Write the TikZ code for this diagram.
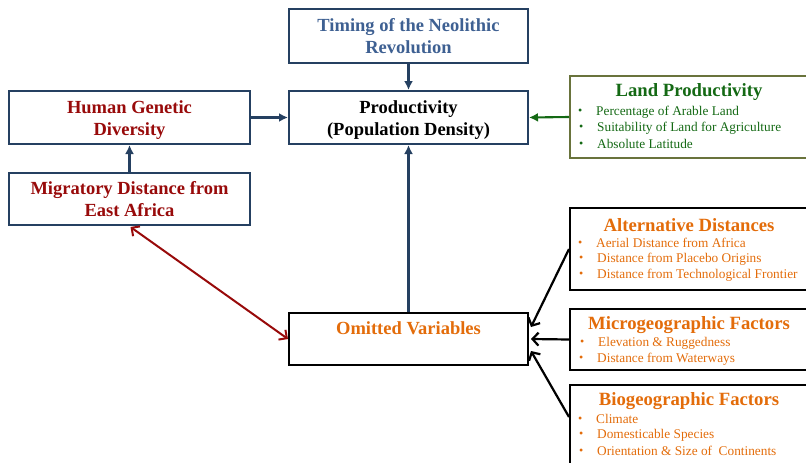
\documentclass[tikz,border=0pt]{standalone}
\usepackage{fontspec}
\setmainfont{Liberation Serif}
\usetikzlibrary{arrows.meta,calc}
\definecolor{navy}{RGB}{37,64,97}
\definecolor{timingblue}{RGB}{62,96,146}
\definecolor{darkred}{RGB}{152,10,10}
\definecolor{dgreen}{RGB}{20,105,20}
\definecolor{olivebox}{RGB}{105,115,60}
\definecolor{orng}{RGB}{227,108,10}
\newcommand{\bitem}[1]{\makebox[18pt][l]{\raisebox{0.8pt}{\fontsize{12}{12}\selectfont\textbullet}}#1}
\begin{document}
\begin{tikzpicture}[x=1pt,y=-1pt,
  box/.style={draw=navy, line width=2pt, minimum width=239pt, minimum height=53pt,
    anchor=north west, inner sep=0pt, align=center,
    font=\fontsize{18.5}{22}\selectfont\bfseries},
  sidebox/.style={draw=black, line width=2pt, minimum width=240pt,
    anchor=north west, inner sep=0pt},
  sidetitle/.style={inner sep=0pt, font=\fontsize{18.7}{20}\selectfont\bfseries},
  bul/.style={inner sep=0pt, anchor=west, font=\fontsize{13.3}{15}\selectfont},
  navyarrow/.style={draw=navy, line width=2.1pt, -{Latex[length=9pt,width=9pt]}},
  greenarrow/.style={draw=dgreen, line width=2.1pt, -{Latex[length=9pt,width=9pt]}},
  redarrow/.style={draw=darkred, line width=2pt, {Straight Barb[length=6pt,width=12pt]}-{Straight Barb[length=6pt,width=12pt]}},
  blackarrow/.style={draw=black, line width=2.2pt, -{Straight Barb[length=6pt,width=13pt]}}
]
\useasboundingbox (0,0) rectangle (806,463);
\clip (0,0) rectangle (806,463);

% main boxes
\node[box, text=timingblue, minimum height=54pt] (timing) at (288,8) {Timing of the Neolithic\\Revolution};
\node[box, text=black] (prod) at (288,90) {\rule{0pt}{18pt}Productivity\\(Population Density)};
\node[box, text=darkred, minimum width=241pt] (hgd) at (8,90) {\rule{0pt}{18pt}Human Genetic\\Diversity};
\node[box, text=darkred, minimum width=241pt, minimum height=52pt] (mig) at (8,172) {Migratory Distance from\\East Africa};
\node[box, draw=black, text=orng, minimum height=52pt] (omit) at (288,312) {\rule{0pt}{20pt}Omitted Variables\\\strut};

% Land productivity
\node[sidebox, draw=olivebox, minimum height=82pt] (land) at (569,75) {};
\node[sidetitle, text=dgreen] (landt) at (689,92) {Land Productivity};
\node[bul, text=dgreen] (l1) at (578,112) {\bitem{Percentage of Arable Land}};
\node[bul, text=dgreen] (l2) at (579,128) {\bitem{Suitability of Land for Agriculture}};
\node[bul, text=dgreen] (l3) at (579,144) {\bitem{Absolute Latitude}};

% Alternative distances
\node[sidebox, minimum height=82pt] (alt) at (569,207) {};
\node[sidetitle, text=orng] (altt) at (689,225) {Alternative Distances};
\node[bul, text=orng] (a1) at (578,243) {\bitem{Aerial Distance from Africa}};
\node[bul, text=orng] (a2) at (579,259) {\bitem{Distance from Placebo Origins}};
\node[bul, text=orng] (a3) at (579,275) {\bitem{Distance from Technological Frontier}};

% Microgeographic
\node[sidebox, minimum height=61pt] (micro) at (569,308) {};
\node[sidetitle, text=orng] (microt) at (689,325) {Microgeographic Factors};
\node[bul, text=orng] (m1) at (580,343) {\bitem{Elevation \& Ruggedness}};
\node[bul, text=orng] (m2) at (579,359) {\bitem{Distance from Waterways}};

% Biogeographic
\node[sidebox, minimum height=95pt] (bio) at (569,384) {};
\node[sidetitle, text=orng] (biot) at (689,401) {Biogeographic Factors};
\node[bul, text=orng] (b1) at (578,419) {\bitem{Climate}};
\node[bul, text=orng] (b2) at (579,435) {\bitem{Domesticable Species}};
\node[bul, text=orng] (b3) at (579,451) {\bitem{Orientation \& Size of\ \ Continents}};

% connectors
\draw[navyarrow] (timing) -- (prod);
\draw[navyarrow] (hgd) -- (prod);
\draw[navyarrow] (mig) -- (hgd);
\draw[greenarrow] (land.west) -- (prod.east);
\draw[navyarrow] (omit) -- (prod);
\draw[redarrow] ($(mig.south)+(1,1)$) -- (omit.west);
\draw[blackarrow] (alt.west) -- ($(omit.east)+(2,-12)$);
\draw[blackarrow] (micro.west) -- ($(omit.east)+(2,0)$);
\draw[blackarrow] ($(bio.north west)+(0,33)$) -- ($(omit.east)+(2,12)$);
\end{tikzpicture}
\end{document}
